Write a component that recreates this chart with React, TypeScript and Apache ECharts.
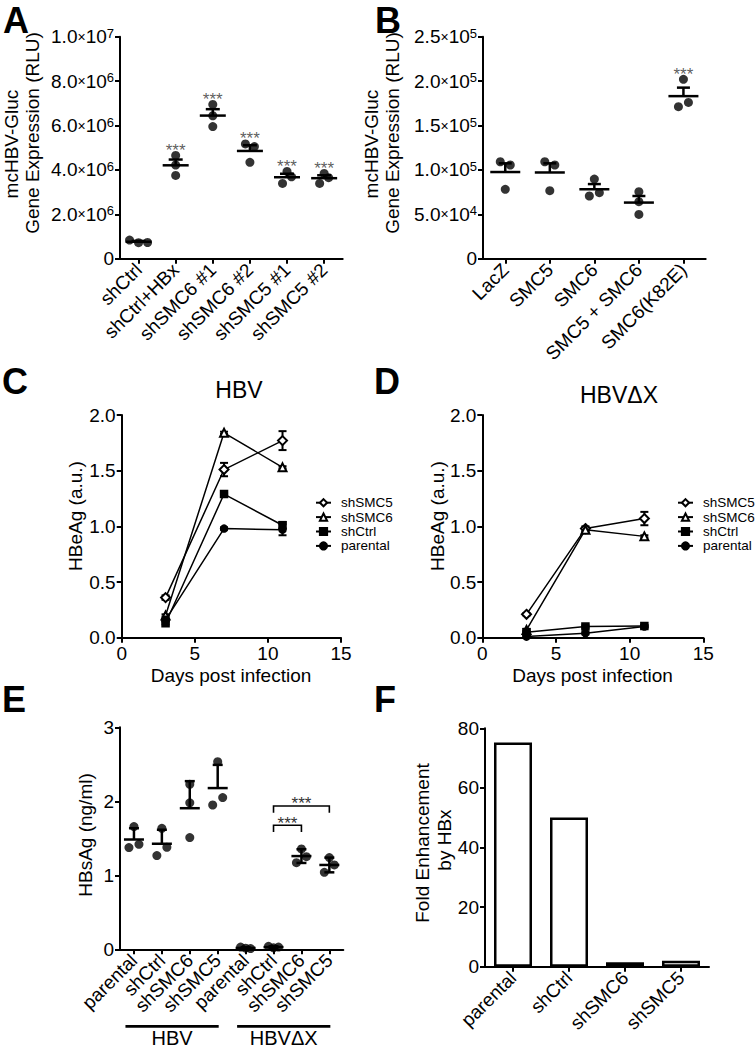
import React, { useEffect, useRef } from "react";
import * as echarts from "echarts";

const FONT = '"Liberation Sans", Arial, Helvetica, sans-serif';

// ---------- Panel A ----------
const A_CATEGORIES = ["shCtrl", "shCtrl+HBx", "shSMC6 #1", "shSMC6 #2", "shSMC5 #1", "shSMC5 #2"];
const A_POINTS = [
  [0.84e6, 0.72e6, 0.73e6],
  [4.65e6, 4.22e6, 3.75e6],
  [6.95e6, 6.44e6, 5.95e6],
  [5.17e6, 5.05e6, 4.34e6],
  [3.93e6, 3.69e6, 3.39e6],
  [3.84e6, 3.65e6, 3.39e6],
];
const A_JITTER = [[-2, 0, 2], [0, 0, 0], [0, 0, 0], [-1, 1, 0], [0, 1, -1], [0, 1, -1]];
const A_SIGNIFICANT = [false, true, true, true, true, true];

// ---------- Panel B ----------
const B_CATEGORIES = ["LacZ", "SMC5", "SMC6", "SMC5 + SMC6", "SMC6(K82E)"];
const B_POINTS = [
  [1.092e5, 1.055e5, 0.781e5],
  [1.092e5, 1.055e5, 0.766e5],
  [0.897e5, 0.743e5, 0.706e5],
  [0.755e5, 0.642e5, 0.499e5],
  [2.02e5, 1.76e5, 1.712e5],
];
const B_JITTER = [[-1, 1, 0], [-1, 1, 0], [0, 1, -1], [0, 0, 0], [0, 1, -1]];
const B_SIGNIFICANT = [false, false, false, false, true];

// ---------- Panels C / D ----------
const DAYS = [3, 7, 11];
const LINE_NAMES = ["shSMC5", "shSMC6", "shCtrl", "parental"];
const LINE_SYMBOLS = ["emptyDiamond", "emptyTriangle", "rect", "circle"];
const LINE_SYMBOL_SIZES = [9, 8, 7, 7];

const C_SHSMC5 = [0.36, 1.51, 1.77];
const C_SHSMC5_ERR = [0.02, 0.06, 0.085];
const C_SHSMC6 = [0.2, 1.84, 1.53];
const C_SHSMC6_ERR = [0.01, 0.01, 0.01];
const C_SHCTRL = [0.13, 1.29, 1.01];
const C_SHCTRL_ERR = [0.01, 0.01, 0.03];
const C_PARENTAL = [0.16, 0.98, 0.97];
const C_PARENTAL_ERR = [0.01, 0.01, 0.05];

const D_SHSMC5 = [0.21, 0.98, 1.07];
const D_SHSMC5_ERR = [0.01, 0.02, 0.06];
const D_SHSMC6 = [0.07, 0.97, 0.91];
const D_SHSMC6_ERR = [0.01, 0.02, 0.01];
const D_SHCTRL = [0.05, 0.1, 0.105];
const D_SHCTRL_ERR = [0.01, 0.01, 0.01];
const D_PARENTAL = [0.01, 0.04, 0.1];
const D_PARENTAL_ERR = [0.01, 0.01, 0.01];

// ---------- Panel E ----------
const E_CATEGORIES = ["parental", "shCtrl", "shSMC6", "shSMC5", "parental", "shCtrl", "shSMC6", "shSMC5"];
const E_GROUPS = ["HBV", "HBVΔX"];
const E_GROUP_SPANS = [[0, 3, 0], [4, 7, 1]];
const E_POINTS = [
  [1.658, 1.374, 1.419],
  [1.635, 1.378, 1.266],
  [2.23, 1.98, 1.51],
  [2.536, 1.95, 2.05],
  [0.03, 0.015, 0.01],
  [0.04, 0.02, 0.03],
  [1.356, 1.252, 1.171],
  [1.239, 1.14, 1.04],
];
const E_JITTER = [[0, -1, 1], [0, 1, -1], [0, 0, 0], [0, -1, 1], [-1, 0, 1], [-1, 0, 1], [0, 1, -1], [0, 1, -1]];
const E_BOTH_SIDES = [false, false, false, false, true, true, true, true];
const E_BRACKETS = [[5, 6, 1.676], [5, 7, 1.937]];

// ---------- Panel F ----------
const F_CATEGORIES = ["parental", "shCtrl", "shSMC6", "shSMC5"];
const F_VALUES = [75.2, 50.1, 1.5, 2.0];

// ---------- helpers ----------
function mean(a: number[]) {
  return a.reduce((s, v) => s + v, 0) / a.length;
}
function sd(a: number[]) {
  const m = mean(a);
  return Math.sqrt(a.reduce((s, v) => s + (v - m) * (v - m), 0) / (a.length - 1));
}
function dots(points: number[][], jitter: number[][], px: number) {
  const out: any[] = [];
  points.forEach((arr, i) =>
    arr.forEach((v, j) => out.push({ value: [i, v], symbolOffset: [jitter[i][j] * px, 0] }))
  );
  return out;
}
function meanErrData(points: number[][], useSem: boolean, both: boolean[]) {
  return points.map((arr, i) => {
    const m = mean(arr);
    const e = useSem ? sd(arr) / Math.sqrt(arr.length) : sd(arr);
    return [i, m, both[i] ? m - e : m, m + e];
  });
}
function meanErrRender(meanHalf: number, capHalf: number, lw: number) {
  return (params: any, api: any) => {
    const i = api.value(0);
    const m = api.value(1);
    const lo = api.value(2);
    const hi = api.value(3);
    const pm = api.coord([i, m]);
    const pl = api.coord([i, lo]);
    const ph = api.coord([i, hi]);
    const style = { stroke: "#000", lineWidth: lw, fill: null };
    const children: any[] = [
      { type: "line", shape: { x1: pm[0] - meanHalf, y1: pm[1], x2: pm[0] + meanHalf, y2: pm[1] }, style },
      { type: "line", shape: { x1: pl[0], y1: pl[1], x2: ph[0], y2: ph[1] }, style },
      { type: "line", shape: { x1: ph[0] - capHalf, y1: ph[1], x2: ph[0] + capHalf, y2: ph[1] }, style },
    ];
    if (lo < m) {
      children.push({ type: "line", shape: { x1: pl[0] - capHalf, y1: pl[1], x2: pl[0] + capHalf, y2: pl[1] }, style });
    }
    return { type: "group", children };
  };
}
function errBarRender(capHalf: number) {
  return (params: any, api: any) => {
    const x = api.value(0);
    const pl = api.coord([x, api.value(1)]);
    const ph = api.coord([x, api.value(2)]);
    const style = { stroke: "#000", lineWidth: 2, fill: null };
    return {
      type: "group",
      children: [
        { type: "line", shape: { x1: pl[0], y1: pl[1], x2: ph[0], y2: ph[1] }, style },
        { type: "line", shape: { x1: ph[0] - capHalf, y1: ph[1], x2: ph[0] + capHalf, y2: ph[1] }, style },
        { type: "line", shape: { x1: pl[0] - capHalf, y1: pl[1], x2: pl[0] + capHalf, y2: pl[1] }, style },
      ],
    };
  };
}
function sciLabel(v: number) {
  if (v === 0) return "{n|0}";
  const e = Math.floor(Math.log10(v) + 1e-9);
  const m = (v / Math.pow(10, e)).toFixed(1);
  return `{n|${m}}{x|×}{n|10}{s|${e}}`;
}
const SCI_RICH = {
  n: { fontSize: 19, fontFamily: FONT, color: "#000", lineHeight: 20 },
  x: { fontSize: 14, fontFamily: FONT, color: "#000", lineHeight: 20 },
  s: { fontSize: 13, fontFamily: FONT, color: "#000", lineHeight: 11, verticalAlign: "top" },
};

const AXIS_LINE = { show: true, onZero: false, lineStyle: { color: "#000", width: 2 } };
const AXIS_TICK = { show: true, length: 5, lineStyle: { color: "#000", width: 2 } };
const LABEL = { color: "#000", fontFamily: FONT, fontSize: 19, margin: 6 };

function catAxis(gridIndex: number, data: string[], rotate: number) {
  return {
    type: "category",
    gridIndex,
    data,
    boundaryGap: true,
    axisLine: AXIS_LINE,
    axisTick: { ...AXIS_TICK, alignWithLabel: true, interval: 0 },
    axisLabel: { ...LABEL, rotate, interval: 0, margin: 8, hideOverlap: false },
    splitLine: { show: false },
  };
}
function valAxis(gridIndex: number, min: number, max: number, interval: number, formatter: any, rich?: any) {
  return {
    type: "value",
    gridIndex,
    min,
    max,
    interval,
    axisLine: AXIS_LINE,
    axisTick: AXIS_TICK,
    axisLabel: { ...LABEL, formatter, rich, showMinLabel: true, showMaxLabel: true },
    splitLine: { show: false },
  };
}

function lineSeries(name: string, idx: number, grid: number, vals: number[]) {
  return {
    type: "line",
    name,
    xAxisIndex: grid,
    yAxisIndex: grid,
    data: DAYS.map((d, k) => [d, vals[k]]),
    symbol: LINE_SYMBOLS[idx],
    symbolSize: LINE_SYMBOL_SIZES[idx],
    lineStyle: { color: "#000", width: 1.5 },
    itemStyle: { color: "#000", borderColor: "#000", borderWidth: 1.5 },
    z: 3,
  };
}
function errSeries(grid: number, vals: number[], errs: number[]) {
  return {
    type: "custom",
    xAxisIndex: grid,
    yAxisIndex: grid,
    silent: true,
    clip: false,
    renderItem: errBarRender(4),
    encode: { x: 0, y: [1, 2] },
    data: DAYS.map((d, k) => [d, vals[k] - errs[k], vals[k] + errs[k]]),
    z: 2,
  };
}
function starSeries(grid: number, points: number[][], flags: boolean[]) {
  return {
    type: "scatter",
    xAxisIndex: grid,
    yAxisIndex: grid,
    symbolSize: 1,
    itemStyle: { color: "rgba(0,0,0,0)" },
    silent: true,
    data: points
      .map((arr, i) => (flags[i] ? [i, Math.max(...arr)] : null))
      .filter((d) => d !== null),
    label: {
      show: true,
      position: "inside",
      offset: [0, -5],
      formatter: "***",
      fontSize: 17,
      fontFamily: FONT,
      color: "#333",
    },
  };
}
function dotSeries(grid: number, points: number[][], jitter: number[][], px: number) {
  return {
    type: "scatter",
    xAxisIndex: grid,
    yAxisIndex: grid,
    symbol: "circle",
    symbolSize: 9,
    itemStyle: { color: "#000" },
    data: dots(points, jitter, px),
    z: 3,
  };
}

function txt(text: string, x: number, y: number, fontSize: number, extra: any = {}) {
  return {
    type: "text",
    x,
    y,
    rotation: extra.rotation || 0,
    silent: true,
    style: {
      text,
      fontSize,
      fontFamily: FONT,
      fontWeight: extra.bold ? "bold" : "normal",
      fill: "#000",
      align: "center",
      verticalAlign: "middle",
      lineHeight: extra.lineHeight || Math.round(fontSize * 1.1),
    },
  };
}
const ROT = Math.PI / 2;

export default function App() {
  const ref = useRef<HTMLDivElement>(null);
  useEffect(() => {
    document.body.style.margin = "0";
    if (!ref.current) return;
    const chart = echarts.init(ref.current, undefined, { renderer: "svg" });

    const cSets = [C_SHSMC5, C_SHSMC6, C_SHCTRL, C_PARENTAL];
    const cErrs = [C_SHSMC5_ERR, C_SHSMC6_ERR, C_SHCTRL_ERR, C_PARENTAL_ERR];
    const dSets = [D_SHSMC5, D_SHSMC6, D_SHCTRL, D_PARENTAL];
    const dErrs = [D_SHSMC5_ERR, D_SHSMC6_ERR, D_SHCTRL_ERR, D_PARENTAL_ERR];

    const legendCommon = {
      orient: "vertical",
      padding: 0,
      itemWidth: 15,
      itemHeight: 9,
      itemGap: 0.4,
      data: LINE_NAMES,
      selectedMode: false,
      textStyle: { fontSize: 13.5, fontFamily: FONT, color: "#000", lineHeight: 12, padding: [0, 0, 0, 5] },
    };

    const option: any = {
      animation: false,
      backgroundColor: "#fff",
      textStyle: { fontFamily: FONT },
      grid: [
        { left: 120, top: 36.7, width: 222.7, height: 222 },
        { left: 483, top: 36.7, width: 222.7, height: 222 },
        { left: 121.7, top: 415, width: 219.3, height: 222.7 },
        { left: 482.3, top: 415, width: 221, height: 222.7 },
        { left: 120, top: 727.3, width: 223.3, height: 222 },
        { left: 485, top: 728.3, width: 224, height: 238.4 },
      ],
      legend: [
        { ...legendCommon, left: 315, top: 495.7 },
        { ...legendCommon, left: 677, top: 495.7 },
      ],
      xAxis: [
        catAxis(0, A_CATEGORIES, 45),
        catAxis(1, B_CATEGORIES, 45),
        valAxis(2, 0, 15, 5, (v: number) => String(v)),
        valAxis(3, 0, 15, 5, (v: number) => String(v)),
        catAxis(4, E_CATEGORIES, 45),
        catAxis(5, F_CATEGORIES, 45),
      ],
      yAxis: [
        valAxis(0, 0, 1e7, 2e6, sciLabel, SCI_RICH),
        valAxis(1, 0, 2.5e5, 5e4, sciLabel, SCI_RICH),
        valAxis(2, 0, 2, 0.5, (v: number) => v.toFixed(1)),
        valAxis(3, 0, 2, 0.5, (v: number) => v.toFixed(1)),
        valAxis(4, 0, 3, 1, (v: number) => String(v)),
        valAxis(5, 0, 80, 20, (v: number) => String(v)),
      ],
      series: [
        // A
        dotSeries(0, A_POINTS, A_JITTER, 4.5),
        {
          type: "custom",
          xAxisIndex: 0,
          yAxisIndex: 0,
          silent: true,
          renderItem: meanErrRender(13, 7, 2.5),
          encode: { x: 0, y: [1, 2, 3] },
          data: meanErrData(A_POINTS, true, A_POINTS.map(() => false)),
          z: 4,
        },
        starSeries(0, A_POINTS, A_SIGNIFICANT),
        // B
        dotSeries(1, B_POINTS, B_JITTER, 5),
        {
          type: "custom",
          xAxisIndex: 1,
          yAxisIndex: 1,
          silent: true,
          renderItem: meanErrRender(15, 6.5, 2.5),
          encode: { x: 0, y: [1, 2, 3] },
          data: meanErrData(B_POINTS, true, B_POINTS.map(() => false)),
          z: 4,
        },
        starSeries(1, B_POINTS, B_SIGNIFICANT),
        // C
        ...cSets.map((vals, i) => errSeries(2, vals, cErrs[i])),
        ...cSets.map((vals, i) => lineSeries(LINE_NAMES[i], i, 2, vals)),
        // D
        ...dSets.map((vals, i) => errSeries(3, vals, dErrs[i])),
        ...dSets.map((vals, i) => lineSeries(LINE_NAMES[i], i, 3, vals)),
        // E
        dotSeries(4, E_POINTS, E_JITTER, 5),
        {
          type: "custom",
          xAxisIndex: 4,
          yAxisIndex: 4,
          silent: true,
          renderItem: meanErrRender(10, 5, 2.5),
          encode: { x: 0, y: [1, 2, 3] },
          data: meanErrData(E_POINTS, false, E_BOTH_SIDES),
          z: 4,
        },
        {
          type: "custom",
          xAxisIndex: 4,
          yAxisIndex: 4,
          silent: true,
          clip: false,
          encode: { x: [0, 1], y: 2 },
          data: E_BRACKETS,
          renderItem: (params: any, api: any) => {
            const p1 = api.coord([api.value(0), api.value(2)]);
            const p2 = api.coord([api.value(1), api.value(2)]);
            const leg = 6.7;
            return {
              type: "group",
              children: [
                {
                  type: "polyline",
                  shape: { points: [[p1[0], p1[1] + leg], [p1[0], p1[1]], [p2[0], p2[1]], [p2[0], p2[1] + leg]] },
                  style: { stroke: "#000", lineWidth: 1.6, fill: null },
                },
                {
                  type: "text",
                  x: (p1[0] + p2[0]) / 2,
                  y: p1[1] - 2,
                  style: { text: "***", fontSize: 17, fontFamily: FONT, fill: "#333", align: "center", verticalAlign: "middle" },
                },
              ],
            };
          },
        },
        {
          type: "custom",
          xAxisIndex: 4,
          yAxisIndex: 4,
          silent: true,
          clip: false,
          encode: { x: [0, 1] },
          data: E_GROUP_SPANS,
          renderItem: (params: any, api: any) => {
            const p0 = api.coord([api.value(0), 0]);
            const p1 = api.coord([api.value(1), 0]);
            const y = p0[1] + 77;
            const xa = p0[0] - 8.5;
            const xb = p1[0] + 1;
            return {
              type: "group",
              children: [
                { type: "line", shape: { x1: xa, y1: y, x2: xb, y2: y }, style: { stroke: "#000", lineWidth: 2.8 } },
                {
                  type: "text",
                  x: (xa + xb) / 2,
                  y: y + 11.5,
                  style: {
                    text: E_GROUPS[api.value(2)],
                    fontSize: 20,
                    lineHeight: 17,
                    fontFamily: FONT,
                    fill: "#000",
                    align: "center",
                    verticalAlign: "middle",
                  },
                },
              ],
            };
          },
        },
        // F
        {
          type: "bar",
          xAxisIndex: 5,
          yAxisIndex: 5,
          data: F_VALUES,
          barWidth: 38,
          itemStyle: { color: "#fff", borderColor: "#000", borderWidth: 2.5 },
        },
      ],
      graphic: [
        txt("A", 16, 20.5, 36, { bold: true, lineHeight: 30 }),
        txt("B", 388, 20.5, 36, { bold: true, lineHeight: 30 }),
        txt("C", 15, 381.7, 36, { bold: true, lineHeight: 30 }),
        txt("D", 387, 381.7, 36, { bold: true, lineHeight: 30 }),
        txt("E", 14, 699, 36, { bold: true, lineHeight: 30 }),
        txt("F", 385, 699, 36, { bold: true, lineHeight: 30 }),
        txt("mcHBV-Gluc", 11, 144, 19, { rotation: ROT }),
        txt("Gene Expression (RLU)", 32, 133, 19, { rotation: ROT }),
        txt("mcHBV-Gluc", 371, 144, 19, { rotation: ROT }),
        txt("Gene Expression (RLU)", 392, 133, 19, { rotation: ROT }),
        txt("HBV", 239, 390, 23),
        txt("HBVΔX", 619, 395, 23),
        txt("HBeAg (a.u.)", 75, 516, 19, { rotation: ROT }),
        txt("HBeAg (a.u.)", 437.5, 516, 19, { rotation: ROT }),
        txt("Days post infection", 231, 675, 19),
        txt("Days post infection", 592.5, 675, 19),
        txt("HBsAg (ng/ml)", 85, 835, 19, { rotation: ROT }),
        txt("Fold Enhancement", 422.5, 843, 19, { rotation: ROT }),
        txt("by HBx", 444, 840, 19, { rotation: ROT }),
      ],
    };
    chart.setOption(option);
    return () => chart.dispose();
  }, []);
  return (
    <div
      ref={ref}
      style={{ position: "absolute", left: 0, top: 0, width: 755, height: 1050, background: "#fff" }}
    />
  );
}
